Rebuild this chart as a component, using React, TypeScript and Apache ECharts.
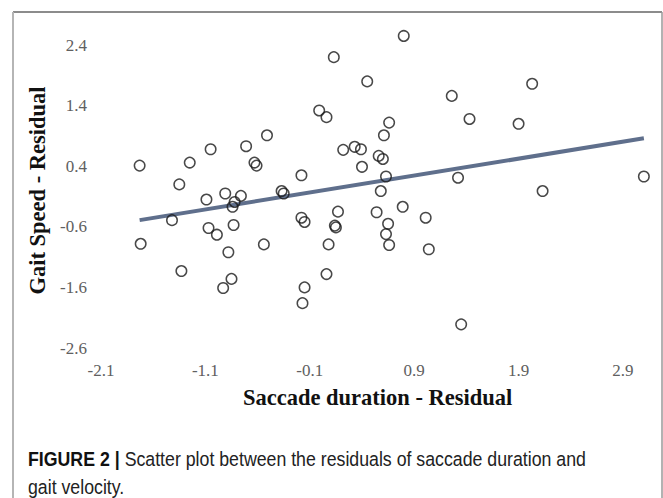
import React, { useEffect, useRef } from "react";
import * as echarts from "echarts";

const saccadeResidual = [
  0.8, 0.13, 0.45, 2.03, 1.26, -0.01, 0.06, 1.43, 0.66, 1.9,
  0.61, -0.51, -0.71, -1.05, 0.22, 0.33, 0.39, 0.56, 0.6, -0.63,
  -0.61, -1.25, -1.73, 0.4, -0.18, 0.63, 1.32, 3.1, -1.35, -0.37,
  -0.35, 0.58, 2.13, -0.91, -0.76, -1.09, -0.82, -0.84, 0.79, 0.17,
  0.54, 1.01, -0.18, -0.15, -1.42, 0.65, 0.14, 0.15, -0.83, -1.07,
  -0.99, 0.63, -1.72, -0.54, 0.08, 0.66, -0.88, 1.04, -1.33, 0.06,
  -0.85, -0.93, -0.15, -0.17, 1.35,
];
const gaitSpeedResidual = [
  2.55, 2.2, 1.8, 1.76, 1.56, 1.32, 1.21, 1.18, 1.12, 1.1,
  0.91, 0.91, 0.73, 0.68, 0.67, 0.72, 0.68, 0.57, 0.52, 0.46,
  0.41, 0.46, 0.41, 0.39, 0.25, 0.23, 0.21, 0.23, 0.1, -0.01,
  -0.05, -0.01, -0.01, -0.05, -0.09, -0.15, -0.19, -0.27, -0.27, -0.35,
  -0.36, -0.45, -0.45, -0.52, -0.49, -0.55, -0.58, -0.61, -0.57, -0.62,
  -0.73, -0.72, -0.88, -0.89, -0.89, -0.9, -1.02, -0.97, -1.33, -1.38,
  -1.46, -1.61, -1.6, -1.86, -2.21,
];
const trendLineX = [-1.73, 3.1];
const trendLineY = [-0.49, 0.86];
const xTickValues = [-2.1, -1.1, -0.1, 0.9, 1.9, 2.9];
const yTickValues = [-2.6, -1.6, -0.6, 0.4, 1.4, 2.4];
const xTitle = "Saccade duration - Residual";
const yTitle = "Gait Speed - Residual";
const captionBold = "FIGURE 2 |";
const captionLine1 = " Scatter plot between the residuals of saccade duration and";
const captionLine2 = "gait velocity.";

export default function App() {
  const ref = useRef<HTMLDivElement>(null);
  useEffect(() => {
    document.body.style.margin = "0";
    const chart = echarts.init(ref.current!, null, { renderer: "svg" });
    const points = saccadeResidual.map((x, i) => [x, gaitSpeedResidual[i]]);
    const trend = trendLineX.map((x, i) => [x, trendLineY[i]]);
    const tickLabel = {
      fontFamily: "Liberation Serif",
      fontSize: 17,
      color: "#606060",
    };
    const titleStyle = {
      fontFamily: "Liberation Serif",
      fontWeight: "bold" as const,
      fontSize: 22.5,
      color: "#111",
    };
    chart.setOption({
      animation: false,
      backgroundColor: "#fff",
      grid: { left: 101, right: 8.7, top: 32.9, bottom: 150 },
      xAxis: {
        type: "value",
        min: -2.1,
        max: 3.2,
        axisLine: { show: false },
        axisTick: { show: false },
        splitLine: { show: false },
        axisLabel: {
          ...tickLabel,
          margin: 14,
          customValues: xTickValues,
          formatter: (v: number) => v.toFixed(1),
        },
        name: xTitle,
        nameLocation: "middle",
        nameGap: 38,
        nameTextStyle: titleStyle,
      },
      yAxis: {
        type: "value",
        min: -2.6,
        max: 2.6,
        axisLine: { show: false },
        axisTick: { show: false },
        splitLine: { show: false },
        axisLabel: {
          ...tickLabel,
          margin: 14,
          customValues: yTickValues,
          formatter: (v: number) => v.toFixed(1),
        },
        name: yTitle,
        nameLocation: "middle",
        nameGap: 52,
        nameRotate: 90,
        nameTextStyle: titleStyle,
      },
      series: [
        {
          type: "line",
          data: trend,
          symbol: "none",
          lineStyle: { color: "#5f6f8c", width: 4 },
          z: 1,
        },
        {
          type: "scatter",
          data: points,
          symbol: "circle",
          symbolSize: 10.5,
          itemStyle: {
            color: "rgba(0,0,0,0)",
            borderColor: "#1a1a1a",
            borderWidth: 1.5,
          },
          z: 2,
        },
      ],
      graphic: [
        {
          type: "line",
          shape: { x1: 13, y1: 12, x2: 662, y2: 12 },
          style: { stroke: "#666", lineWidth: 1.5 },
        },
        {
          type: "line",
          shape: { x1: 13, y1: 12, x2: 13, y2: 498 },
          style: { stroke: "#b5b5b5", lineWidth: 2 },
        },
        {
          type: "line",
          shape: { x1: 662, y1: 12, x2: 662, y2: 498 },
          style: { stroke: "#999", lineWidth: 1.5 },
        },
        {
          type: "text",
          x: 28,
          y: 445,
          scaleX: 0.91,
          style: {
            text: `{b|${captionBold}}{r|${captionLine1}}\n{r|${captionLine2}}`,
            rich: {
              b: {
                fontFamily: "Liberation Sans",
                fontWeight: "bold",
                fontSize: 19.5,
                lineHeight: 28,
                fill: "#111",
              },
              r: {
                fontFamily: "Liberation Sans",
                fontSize: 19.5,
                lineHeight: 28,
                fill: "#222",
              },
            },
          },
        },
      ],
    });
    return () => chart.dispose();
  }, []);
  return <div ref={ref} style={{ width: 663, height: 498 }} />;
}
